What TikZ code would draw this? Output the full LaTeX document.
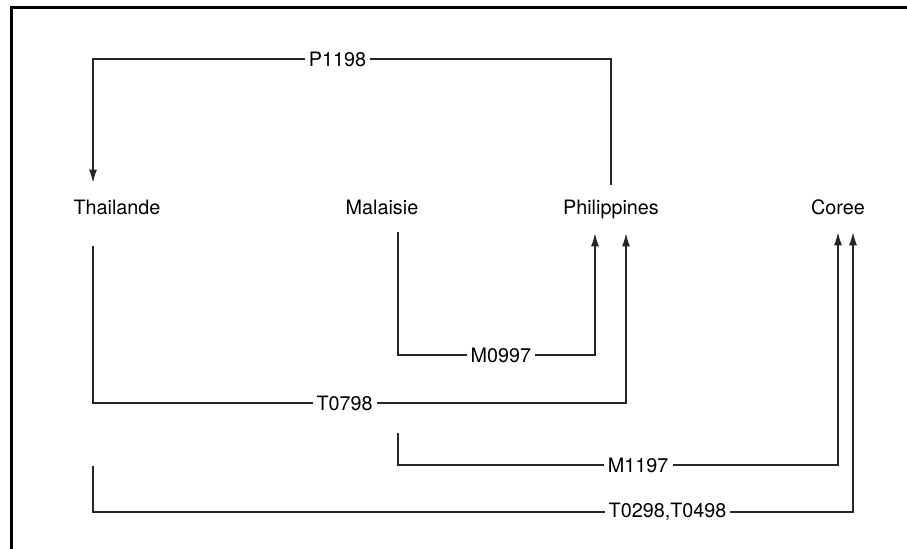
\documentclass[tikz,border=0pt]{standalone}
\usepackage{fontspec}
\setmainfont{TeX Gyre Heros}
\usetikzlibrary{arrows.meta,positioning}

\begin{document}
\begin{tikzpicture}[>={Latex[length=6.5pt,width=4pt]},x=0.5pt,y=-0.5pt,
  pays/.style={inner sep=0pt,text height=7pt,text depth=2pt,
               font=\fontsize{9.9}{12}\selectfont},
  lbl/.style={fill=white,inner xsep=2pt,inner ysep=0pt,
              font=\fontsize{9.9}{12}\selectfont},
  lien/.style={->,line width=0.55pt,draw=black!85}]
\useasboundingbox (0,0) rectangle (907,549);
% cadre
\draw[line width=1.5pt] (11,549) -- (11,7.5) -- (907,7.5);
% pays
\node[pays] (Thai) at (117,210) {Thailande};
\node[pays] (Mala) at (382,210) {Malaisie};
\node[pays] (Phil) at (611,210) {Philippines};
\node[pays] (Core) at (838,210) {Coree};
% rails
\coordinate (rP) at (0,59);
\coordinate (rM) at (0,355);
\coordinate (rT) at (0,403);
\coordinate (rK) at (0,465);
\coordinate (rL) at (0,512);
% liens
\draw[lien] ([yshift=8pt]Phil.north) -- (Phil.north |- rP)
  -| node[lbl,pos=0.264] {P1198} ([xshift=-12pt,yshift=9pt]Thai.north);
\draw[lien] ([xshift=-12pt,yshift=-13.5pt]Thai.south)
  |- node[lbl,pos=0.736] {T0798} ([xshift=7.5pt]Phil.south |- rT)
  -- ([xshift=7.5pt,yshift=-7pt]Phil.south);
\draw[lien] ([xshift=8pt,yshift=-6.5pt]Mala.south)
  |- node[lbl,pos=0.761] {M0997} ([xshift=-8pt]Phil.south |- rM)
  -- ([xshift=-8pt,yshift=-7pt]Phil.south);
\draw[lien] ([xshift=8pt,yshift=-107pt]Mala.south)
  |- node[lbl,pos=0.773] {M1197} (Core.south |- rK)
  -- ([yshift=-6.5pt]Core.south);
\draw[lien] ([xshift=-12pt,yshift=-123.5pt]Thai.south)
  |- node[lbl,pos=0.878] {T0298,T0498} ([xshift=7.5pt]Core.south |- rL)
  -- ([xshift=7.5pt,yshift=-6.5pt]Core.south);
\end{tikzpicture}
\end{document}
